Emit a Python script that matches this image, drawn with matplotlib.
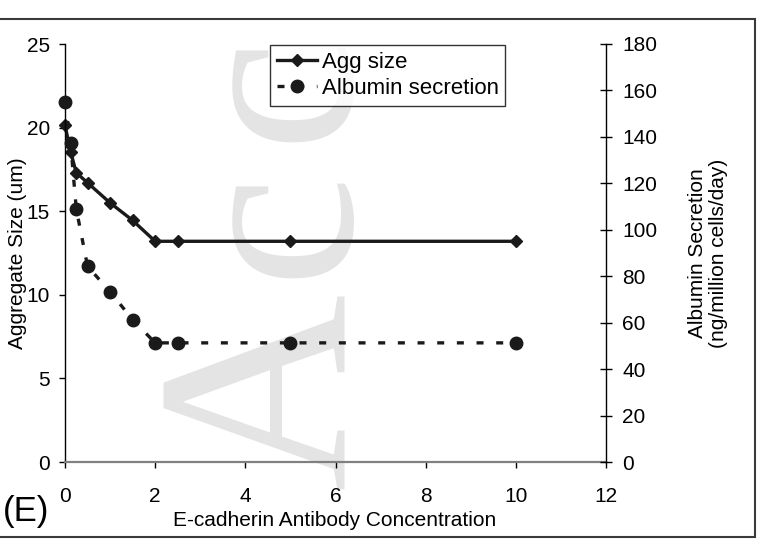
import matplotlib
matplotlib.use("Agg")
import matplotlib.pyplot as plt
from matplotlib.patches import Rectangle

plt.rcParams['font.family'] = ['Liberation Sans', 'DejaVu Sans']

# antibody concentration
conc = [0, 0.125, 0.25, 0.5, 1, 1.5, 2, 2.5, 5, 10]
# aggregate size (um), left axis
agg_size = [20.15, 18.55, 17.3, 16.7, 15.5, 14.45, 13.2, 13.2, 13.2, 13.2]
# albumin secretion (ng/million cells/day), right axis
albumin = [155.2, 137.2, 109.0, 84.3, 73.3, 61.3, 51.3, 51.3, 51.3, 51.3]

x_ticks = [0, 2, 4, 6, 8, 10, 12]
left_ticks = [0, 5, 10, 15, 20, 25]
right_ticks = [0, 20, 40, 60, 80, 100, 120, 140, 160, 180]

fig = plt.figure(figsize=(7.6, 5.4), dpi=100)
ax = fig.add_axes([65 / 760, 78 / 540, 541 / 760, 418 / 540])
ax.patch.set_visible(False)
ax2 = ax.twinx()

# faint watermark letters behind the chart
for letter, ypix, size in [("A", 489, 197), ("c", 278, 182), ("c", 142, 182)]:
    fig.text(343 / 760, (540 - ypix) / 540, letter, rotation=90, rotation_mode="anchor",
             ha="left", va="baseline", fontsize=size,
             family=["Liberation Serif", "DejaVu Serif"],
             color="#e4e4e4", zorder=-1)

l1, = ax.plot(conc, agg_size, color="#1a1a1a", lw=2.4, marker="D", ms=6,
              label="Agg size", clip_on=False)
l2, = ax2.plot(conc, albumin, color="#1a1a1a", lw=2.4, marker="o", ms=9,
               dashes=(2.1, 3.8), dash_capstyle="butt", label="Albumin secretion",
               clip_on=False)

ax.set_xlim(0, 12)
ax.set_ylim(0, 25)
ax2.set_ylim(0, 180)
ax.set_xticks(x_ticks)
ax.set_yticks(left_ticks)
ax2.set_yticks(right_ticks)

for sp in ["top", "right"]:
    ax.spines[sp].set_visible(False)
for sp in ["top", "left", "bottom"]:
    ax2.spines[sp].set_visible(False)
ax.spines["left"].set_color("black")
ax.spines["left"].set_linewidth(1)
ax.spines["bottom"].set_color("#808080")
ax.spines["bottom"].set_linewidth(1.6)
ax2.spines["right"].set_color("black")
ax2.spines["right"].set_linewidth(1)

ax.tick_params(axis="x", direction="out", length=4.3, width=1, pad=14, labelsize=15)
ax.tick_params(axis="y", direction="out", length=4.3, width=1, pad=6.5, labelsize=15)
ax2.tick_params(axis="y", direction="inout", length=8.6, width=1, pad=7.5, labelsize=15)

ax.set_ylabel("Aggregate Size (um)", fontsize=15, labelpad=0)
ax2.set_ylabel("Albumin Secretion\n(ng/million cells/day)", fontsize=15,
               labelpad=22, ha="center", linespacing=1.15)
fig.text(173 / 760, 20 / 540, "E-cadherin Antibody Concentration", fontsize=15,
         ha="left", va="center")
fig.text(3 / 760, 28 / 540, "(E)", fontsize=25, ha="left", va="center")

leg = ax2.legend([l1, l2], ["Agg size", "Albumin secretion"], loc="upper left",
                 bbox_to_anchor=(270 / 760, 1 - 45 / 540), bbox_transform=fig.transFigure,
                 fontsize=16, frameon=True, fancybox=False, borderpad=0.3,
                 handlelength=1.8, handletextpad=0.22, labelspacing=0.25,
                 borderaxespad=0, numpoints=1)
leg.get_frame().set_edgecolor("black")
leg.get_frame().set_linewidth(1)

# outer frame of the panel
fig.add_artist(Rectangle((-0.02, 3 / 540), 755 / 760 + 0.02, 518 / 540,
                         transform=fig.transFigure, fill=False,
                         edgecolor="#3a3a3a", lw=1.5))

fig.savefig("out.png", dpi=100)
